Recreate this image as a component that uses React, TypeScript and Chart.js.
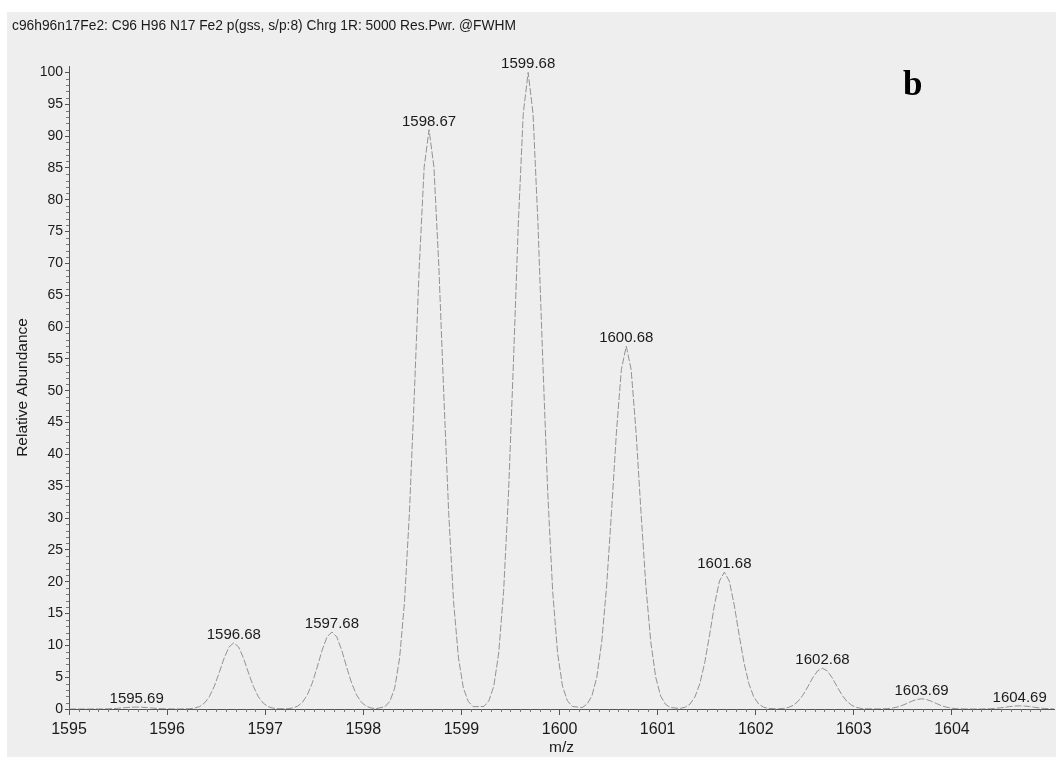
import React, { useEffect, useRef } from 'react';
import { Chart, registerables } from 'chart.js';

Chart.register(...registerables);

// Header and panel letter
const HEADER_TEXT = 'c96h96n17Fe2: C96 H96 N17 Fe2 p(gss, s/p:8) Chrg 1R: 5000 Res.Pwr. @FWHM';
const PANEL_LETTER = 'b';
const X_TITLE = 'm/z';
const Y_TITLE = 'Relative Abundance';

// Isotope peaks: centroid m/z, relative abundance and their labels
const peakMz = [1595.69, 1596.68, 1597.68, 1598.67, 1599.68, 1600.68, 1601.68, 1602.68, 1603.69, 1604.69];
const peakHeight = [0.3, 10.4, 12.1, 91, 100, 57, 21.5, 6.4, 1.6, 0.5];
const peakLabels = ['1595.69', '1596.68', '1597.68', '1598.67', '1599.68', '1600.68', '1601.68', '1602.68', '1603.69', '1604.69'];

// Peak profile (R = 5000 @ FWHM): offset from centroid and fraction of peak height
const profileOffset = [-0.45, -0.4, -0.35, -0.3, -0.25, -0.2, -0.15, -0.1, -0.05, 0, 0.05, 0.1, 0.15, 0.2, 0.25, 0.3, 0.35, 0.4, 0.45];
const profileShape = [0.004, 0.013, 0.036, 0.088, 0.185, 0.339, 0.544, 0.763, 0.935, 1, 0.935, 0.763, 0.544, 0.339, 0.185, 0.088, 0.036, 0.013, 0.004];

// Axes
const X_MIN = 1595;
const X_MAX = 1605.04;
const Y_MIN = 0;
const Y_MAX = 101;
const xTickValues = [1595, 1596, 1597, 1598, 1599, 1600, 1601, 1602, 1603, 1604];
const yTickValues = [0, 5, 10, 15, 20, 25, 30, 35, 40, 45, 50, 55, 60, 65, 70, 75, 80, 85, 90, 95, 100];

const SANS = '"Liberation Sans", Arial, Helvetica, sans-serif';
const SERIF = '"Liberation Serif", "Times New Roman", serif';

function buildTrace() {
  const pts: { x: number; y: number }[] = [{ x: X_MIN, y: 0 }];
  peakMz.forEach((mz, i) => {
    profileOffset.forEach((off, j) => {
      pts.push({ x: mz + off, y: peakHeight[i] * profileShape[j] });
    });
  });
  pts.push({ x: X_MAX, y: 0 });
  return pts;
}

const decorPlugin = {
  id: 'decor',
  beforeDraw(chart: any) {
    const { ctx, width, height } = chart;
    ctx.save();
    ctx.fillStyle = '#ffffff';
    ctx.fillRect(0, 0, width, height);
    ctx.fillStyle = '#eeeeee';
    ctx.fillRect(7, 12, width - 7, height - 12);
    ctx.fillStyle = '#1a1a1a';
    ctx.font = `13.8px ${SANS}`;
    ctx.textBaseline = 'middle';
    ctx.textAlign = 'left';
    ctx.fillText(HEADER_TEXT, 12, 26);
    ctx.fillStyle = '#000000';
    ctx.font = `bold 35px ${SERIF}`;
    ctx.textBaseline = 'alphabetic';
    ctx.fillText(PANEL_LETTER, 903, 95);
    ctx.restore();
  },
  afterDraw(chart: any) {
    const { ctx } = chart;
    const xs = chart.scales.x;
    const ys = chart.scales.y;
    ctx.save();
    // minor ticks
    ctx.strokeStyle = '#777777';
    ctx.lineWidth = 1;
    ctx.beginPath();
    for (let i = 1; i < 101; i++) {
      if (i % 5 === 0) continue;
      const py = Math.round(ys.getPixelForValue(i)) + 0.5;
      ctx.moveTo(xs.left - 3, py);
      ctx.lineTo(xs.left, py);
    }
    for (let k = 1; k <= 101; k++) {
      if (k % 10 === 0) continue;
      const v = X_MIN + k / 10;
      if (v > X_MAX) break;
      const px = Math.round(xs.getPixelForValue(v)) + 0.5;
      ctx.moveTo(px, ys.bottom);
      ctx.lineTo(px, ys.bottom + 3);
    }
    ctx.stroke();
    // peak labels
    ctx.fillStyle = '#1a1a1a';
    ctx.font = `15px ${SANS}`;
    ctx.textAlign = 'center';
    ctx.textBaseline = 'alphabetic';
    peakMz.forEach((mz, i) => {
      const px = xs.getPixelForValue(mz);
      const py = ys.getPixelForValue(peakHeight[i]);
      ctx.fillText(peakLabels[i], px, py - 4);
    });
    ctx.restore();
  },
};

export default function App() {
  const ref = useRef<HTMLCanvasElement | null>(null);

  useEffect(() => {
    document.body.style.margin = '0';
    const canvas = ref.current;
    if (!canvas) return;
    const chart = new Chart(canvas, {
      type: 'scatter',
      data: {
        datasets: [
          {
            data: buildTrace(),
            showLine: true,
            borderColor: '#939393',
            borderWidth: 1,
            borderDash: [7, 2],
            pointRadius: 0,
            fill: false,
            tension: 0,
          },
        ],
      },
      options: {
        animation: false,
        responsive: false,
        devicePixelRatio: 1,
        layout: { padding: { left: 0, top: 66, right: 2, bottom: 0 } },
        plugins: { legend: { display: false }, tooltip: { enabled: false } },
        scales: {
          x: {
            type: 'linear',
            min: X_MIN,
            max: X_MAX,
            afterBuildTicks: (scale: any) => {
              scale.ticks = xTickValues.map((v) => ({ value: v }));
            },
            afterFit: (scale: any) => {
              scale.height = 48;
            },
            ticks: {
              color: '#1a1a1a',
              font: { family: SANS, size: 16 },
              padding: 5,
              maxRotation: 0,
              autoSkip: false,
              callback: (v: any) => String(v),
            },
            grid: { drawOnChartArea: false, drawTicks: true, tickLength: 6, color: '#555555' },
            border: { display: true, color: '#555555', width: 1 },
            title: {
              display: true,
              text: X_TITLE,
              color: '#1a1a1a',
              font: { family: SANS, size: 15.5 },
              padding: { top: 0, bottom: 0 },
            },
          },
          y: {
            type: 'linear',
            min: Y_MIN,
            max: Y_MAX,
            afterBuildTicks: (scale: any) => {
              scale.ticks = yTickValues.map((v) => ({ value: v }));
            },
            afterFit: (scale: any) => {
              scale.width = 69;
            },
            ticks: {
              color: '#1a1a1a',
              font: { family: SANS, size: 14 },
              padding: 2,
              autoSkip: false,
              callback: (v: any) => String(v),
            },
            grid: { drawOnChartArea: false, drawTicks: true, tickLength: 4, color: '#555555' },
            border: { display: true, color: '#555555', width: 1 },
            title: {
              display: true,
              text: Y_TITLE,
              color: '#1a1a1a',
              font: { family: SANS, size: 15.5 },
              padding: { top: 13, bottom: 0 },
            },
          },
        },
      },
      plugins: [decorPlugin],
    });
    return () => chart.destroy();
  }, []);

  return <canvas ref={ref} width={1056} height={757} style={{ display: 'block' }} />;
}
